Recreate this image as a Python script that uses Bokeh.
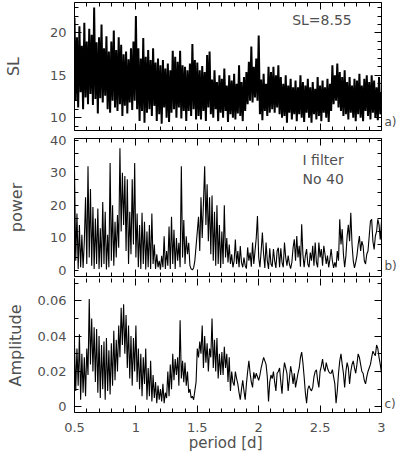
from bokeh.plotting import figure
from bokeh.layouts import column
from bokeh.models import (FixedTicker, LinearAxis, Label, Range1d,
                          PrintfTickFormatter, CustomJSTickFormatter)
from bokeh.embed import file_html
from bokeh.resources import INLINE

# ---------------- data ----------------
period = [round(0.50 + 0.01 * i, 2) for i in range(251)]

sl = [
    21.8, 12.0, 19.5, 11.2, 20.8, 13.0, 18.5, 11.0, 21.2, 12.4,
    19.0, 11.6, 20.5, 12.8, 19.8, 11.5, 23.0, 12.2, 18.9, 10.5,
    19.5, 12.3, 21.0, 11.8, 18.2, 12.6, 19.6, 11.0, 17.8, 10.6,
    19.0, 12.0, 20.3, 11.2, 18.0, 10.8, 19.5, 11.6, 18.6, 10.2,
    17.5, 11.4, 17.8, 10.5, 16.9, 11.8, 18.2, 10.9, 19.0, 12.0,
    22.0, 11.0, 18.2, 9.6, 17.0, 10.8, 19.4, 9.4, 17.2, 10.6,
    18.0, 11.0, 16.8, 10.2, 18.2, 11.4, 16.5, 9.6, 17.0, 10.4,
    16.2, 9.3, 16.8, 11.2, 15.8, 10.0, 16.4, 9.5, 15.6, 10.6,
    17.9, 11.0, 17.2, 10.0, 16.6, 11.2, 17.9, 9.9, 16.2, 10.8,
    16.0, 9.6, 15.6, 10.8, 16.4, 10.2, 18.7, 11.0, 16.8, 9.8,
    16.5, 10.2, 15.6, 9.8, 16.1, 10.8, 15.4, 9.6, 17.4, 11.2,
    17.8, 10.4, 14.5, 10.0, 15.6, 11.0, 14.2, 9.6, 15.0, 10.6,
    14.6, 10.0, 15.8, 10.8, 13.8, 9.5, 15.0, 10.4, 14.4, 10.0,
    15.2, 9.8, 14.0, 10.5, 16.2, 10.2, 14.2, 9.6, 14.8, 10.8,
    15.4, 11.6, 16.6, 12.0, 18.4, 11.8, 16.0, 12.4, 17.0, 12.0,
    19.7, 10.4, 14.5, 9.7, 15.2, 10.8, 14.0, 10.2, 16.0, 10.6,
    15.4, 11.0, 16.0, 10.6, 15.0, 11.2, 16.2, 10.4, 14.8, 10.0,
    14.0, 10.2, 15.0, 9.4, 13.8, 10.6, 14.6, 9.8, 13.6, 10.4,
    14.4, 9.6, 13.6, 10.4, 15.0, 10.0, 14.2, 9.5, 13.8, 10.6,
    14.6, 10.0, 13.6, 9.4, 14.2, 10.4, 13.4, 9.8, 14.8, 10.2,
    13.8, 9.6, 14.4, 10.6, 13.6, 10.0, 14.6, 9.5, 14.0, 10.8,
    16.2, 11.6, 15.0, 12.0, 16.4, 11.2, 15.4, 10.8, 14.8, 10.2,
    15.6, 10.4, 14.2, 9.8, 14.8, 10.6, 13.8, 10.0, 14.6, 9.6,
    14.4, 10.4, 15.2, 10.0, 13.8, 9.6, 14.6, 10.8, 15.0, 10.2,
    14.2, 9.8, 15.0, 10.6, 14.4, 10.0, 13.6, 9.7, 14.8, 10.4,
    13.0,
]

power = [
    31.0, 3.0, 17.5, 0.5, 14.0, 1.0, 11.0, 0.8, 9.0, 22.5,
    2.0, 32.0, 4.0, 25.0, 1.5, 19.5, 0.5, 16.0, 2.0, 19.0,
    0.5, 13.0, 1.0, 21.0, 2.0, 18.0, 0.3, 11.0, 1.0, 33.0,
    3.0, 20.0, 1.5, 15.0, 4.0, 17.0, 7.0, 37.5, 12.0, 30.0,
    14.0, 29.0, 6.0, 28.0, 2.0, 18.0, 5.0, 28.0, 8.0, 33.0,
    4.0, 17.5, 1.0, 14.0, 0.5, 17.7, 2.0, 15.0, 0.3, 12.0,
    1.0, 14.0, 0.5, 17.5, 2.0, 8.0, 0.5, 5.0, 1.0, 3.0,
    0.3, 4.5, 1.0, 10.5, 0.5, 6.0, 1.5, 13.5, 0.5, 16.5,
    2.0, 12.5, 0.5, 10.0, 3.0, 8.5, 1.0, 32.0, 4.0, 15.5,
    2.0, 10.5, 5.0, 8.5, 1.5, 0.5, 0.2, 0.8, 3.0, 7.5,
    12.0, 16.5, 6.0, 22.5, 10.0, 20.5, 32.0, 14.0, 26.5, 9.0,
    22.5, 5.0, 23.0, 3.0, 18.0, 1.5, 20.0, 2.0, 14.0, 0.8,
    12.0, 2.0, 20.0, 4.0, 10.0, 2.5, 8.0, 2.0, 5.0, 1.0,
    3.0, 9.5, 2.0, 6.0, 1.0, 7.5, 2.5, 1.0, 4.0, 1.5,
    0.6, 7.1, 3.0, 5.5, 1.2, 8.6, 2.0, 6.0, 10.0, 16.7,
    4.0, 1.0, 6.0, 11.7, 5.0, 0.8, 8.6, 3.0, 0.5, 6.8,
    2.0, 1.2, 6.6, 3.0, 0.8, 6.0, 7.0, 1.0, 6.8, 2.5,
    1.0, 8.6, 4.0, 1.5, 4.6, 2.0, 0.6, 2.5, 7.0, 9.6,
    3.0, 10.6, 4.0, 7.6, 1.2, 14.2, 5.0, 1.0, 4.6, 6.6,
    2.0, 1.0, 5.5, 3.0, 7.6, 1.5, 8.6, 2.5, 1.0, 8.6,
    4.0, 6.6, 1.5, 7.6, 5.0, 2.0, 4.6, 1.0, 3.5, 6.6,
    3.0, 0.8, 2.5, 1.0, 6.0, 3.0, 15.7, 8.0, 12.7, 5.0,
    1.0, 4.5, 10.5, 14.0, 9.0, 17.7, 8.0, 3.0, 0.8, 2.5,
    4.6, 8.0, 10.6, 6.0, 9.0, 7.6, 3.0, 2.0, 5.0, 6.0,
    10.6, 15.2, 15.7, 9.0, 6.5, 10.6, 12.0, 15.7, 14.0, 9.5,
    15.0,
]

amplitude = [
    0.035, 0.009, 0.033, 0.012, 0.041, 0.004, 0.030, 0.008, 0.028, 0.006,
    0.033, 0.018, 0.061, 0.024, 0.050, 0.020, 0.045, 0.014, 0.044, 0.008,
    0.040, 0.005, 0.035, 0.010, 0.037, 0.004, 0.039, 0.009, 0.032, 0.007,
    0.036, 0.012, 0.043, 0.015, 0.038, 0.020, 0.046, 0.028, 0.056, 0.035,
    0.058, 0.030, 0.052, 0.022, 0.046, 0.016, 0.040, 0.012, 0.039, 0.020,
    0.046, 0.014, 0.033, 0.010, 0.030, 0.006, 0.028, 0.013, 0.033, 0.004,
    0.022, 0.006, 0.026, 0.003, 0.018, 0.005, 0.014, 0.002, 0.012, 0.004,
    0.010, 0.003, 0.013, 0.002, 0.008, 0.005, 0.020, 0.006, 0.024, 0.010,
    0.030, 0.015, 0.027, 0.018, 0.028, 0.012, 0.049, 0.016, 0.026, 0.014,
    0.025, 0.012, 0.020, 0.008, 0.010, 0.005, 0.006, 0.004, 0.009, 0.014,
    0.033, 0.028, 0.037, 0.030, 0.046, 0.022, 0.040, 0.025, 0.036, 0.020,
    0.033, 0.028, 0.050, 0.022, 0.038, 0.020, 0.039, 0.016, 0.030, 0.018,
    0.031, 0.018, 0.034, 0.022, 0.030, 0.014, 0.028, 0.009, 0.020, 0.014,
    0.012, 0.020, 0.016, 0.013, 0.008, 0.004, 0.010, 0.015, 0.009, 0.004,
    0.013, 0.020, 0.026, 0.019, 0.014, 0.011, 0.0195, 0.016, 0.019, 0.017,
    0.015, 0.018, 0.022, 0.025, 0.028, 0.026, 0.024, 0.017, 0.003, 0.014,
    0.018, 0.016, 0.020, 0.014, 0.009, 0.019, 0.020, 0.022, 0.014, 0.0074,
    0.019, 0.025, 0.022, 0.019, 0.009, 0.016, 0.023, 0.019, 0.013, 0.019,
    0.011, 0.015, 0.019, 0.022, 0.028, 0.031, 0.025, 0.017, 0.008, 0.002,
    0.010, 0.012, 0.010, 0.009, 0.011, 0.017, 0.020, 0.021, 0.015, 0.011,
    0.020, 0.023, 0.027, 0.022, 0.020, 0.025, 0.022, 0.020, 0.019, 0.019,
    0.021, 0.017, 0.013, 0.002, 0.009, 0.019, 0.026, 0.030, 0.024, 0.019,
    0.011, 0.020, 0.025, 0.022, 0.013, 0.020, 0.024, 0.026, 0.022, 0.019,
    0.024, 0.030, 0.028, 0.024, 0.020, 0.019, 0.015, 0.013, 0.017, 0.020,
    0.022, 0.024, 0.028, 0.0315, 0.030, 0.029, 0.035, 0.033, 0.028, 0.024,
    0.019,
]

x_major = [0.5, 1.0, 1.5, 2.0, 2.5, 3.0]
x_minor = [0.6, 0.7, 0.8, 0.9, 1.1, 1.2, 1.3, 1.4, 1.6, 1.7, 1.8, 1.9,
           2.1, 2.2, 2.3, 2.4, 2.6, 2.7, 2.8, 2.9]

sl_major = [10, 15, 20]
sl_minor = [9, 11, 12, 13, 14, 16, 17, 18, 19, 21, 22, 23]
power_major = [0, 10, 20, 30, 40]
power_minor = [0, 4, 8, 12, 16, 20, 24, 28, 32, 36, 40]
amp_major = [0, 0.02, 0.04, 0.06]
amp_minor = [0.01, 0.03, 0.05, 0.07]

FONT = "DejaVu Sans"
TXT = "#505050"
W = 399


def style_axis(ax, major, minor, major_in, show_labels, standoff=8,
               size="13px", line=None):
    ax.ticker = FixedTicker(ticks=major, minor_ticks=minor)
    ax.axis_line_color = line
    ax.major_tick_in = major_in
    ax.major_tick_out = 0
    ax.minor_tick_in = 4
    ax.minor_tick_out = 0
    ax.major_tick_line_color = "black"
    ax.minor_tick_line_color = "black"
    if show_labels:
        ax.formatter = PrintfTickFormatter(format="%g")
        ax.major_label_text_font = FONT
        ax.major_label_text_font_size = size
        ax.major_label_text_color = TXT
        ax.major_label_standoff = standoff
    else:
        ax.formatter = CustomJSTickFormatter(code="return ''")
        ax.major_label_text_font_size = "1px"
        ax.major_label_standoff = 0


def side_tag(p, pos, tag):
    # panel tag "a)", "b)", "c)" shown as the label of a single tick on the right
    ax = LinearAxis(ticker=FixedTicker(ticks=[pos]),
                    formatter=CustomJSTickFormatter(code="return '%s'" % tag))
    ax.axis_line_color = None
    ax.major_tick_in = 0
    ax.major_tick_out = 0
    ax.minor_tick_in = 0
    ax.minor_tick_out = 0
    ax.major_label_standoff = 3
    ax.major_label_text_font = FONT
    ax.major_label_text_font_size = "12px"
    ax.major_label_text_color = TXT
    p.add_layout(ax, "right")


def panel(height, yvals, yrange, ymaj, ymin, ymaj_in, ylabel, ylabel_standoff,
          top, bottom, xlabel, lw, outline=True):
    p = figure(width=W, height=height, x_range=Range1d(0.5, 3.0),
               y_range=Range1d(*yrange), output_backend="svg",
               toolbar_location=None, tools="",
               min_border_left=67, min_border_right=16,
               min_border_top=top, min_border_bottom=bottom)
    p.line(period, yvals, line_color="black", line_width=lw)
    p.grid.visible = False
    if outline:
        p.outline_line_color = "black"
        p.outline_line_width = 1
        line = None
    else:
        p.outline_line_color = None
        line = "black"
    ax_b = p.below[0]
    style_axis(ax_b, x_major, x_minor, 7, xlabel is not None, standoff=10, line=line)
    if xlabel is not None:
        ax_b.axis_label = xlabel
        ax_b.axis_label_text_font = FONT
        ax_b.axis_label_text_font_size = "15px"
        ax_b.axis_label_text_font_style = "normal"
        ax_b.axis_label_text_color = TXT
        ax_b.axis_label_standoff = -1
    ax_top = LinearAxis()
    style_axis(ax_top, x_major, x_minor, 7, False, line=None)
    p.add_layout(ax_top, "above")
    ax_l = p.left[0]
    style_axis(ax_l, ymaj, ymin, ymaj_in, True, standoff=8, size="13px", line=line)
    ax_l.axis_label = ylabel
    ax_l.axis_label_text_font = FONT
    ax_l.axis_label_text_font_size = "16px"
    ax_l.axis_label_text_font_style = "normal"
    ax_l.axis_label_text_color = TXT
    ax_l.axis_label_standoff = ylabel_standoff
    ax_r = LinearAxis()
    style_axis(ax_r, ymaj, ymin, ymaj_in, False, line=line)
    p.add_layout(ax_r, "right")
    return p


def txt(p, x, y, s, align="left", size="14px"):
    p.add_layout(Label(x=x, y=y, text=s, text_align=align, text_baseline="middle",
                       text_font=FONT, text_font_size=size, text_color=TXT))


pa = panel(131, sl, (8.49, 23.6), sl_major, sl_minor, 7, "SL", 24, 2, 1, None, 2.0)
txt(pa, 2.515, 21.5, "SL=8.55", align="center")
side_tag(pa, 8.95, "a)")

pb = panel(147, power, (-1.82, 40.5), power_major, power_minor, 0, "power", 21, 7, 2, None, 1.1)
txt(pb, 2.357, 34.0, "I filter")
txt(pb, 2.357, 28.0, "No 40")
side_tag(pb, 1.5, "b)")

pc = panel(176, amplitude, (-0.0032, 0.0726), amp_major, amp_minor, 7, "Amplitude", 10,
           0, 40, "period  [d]", 1.1, outline=False)
side_tag(pc, 0.0018, "c)")

layout = column(pa, pb, pc, spacing=0)
open("out.html", "w").write(file_html(layout, INLINE))
